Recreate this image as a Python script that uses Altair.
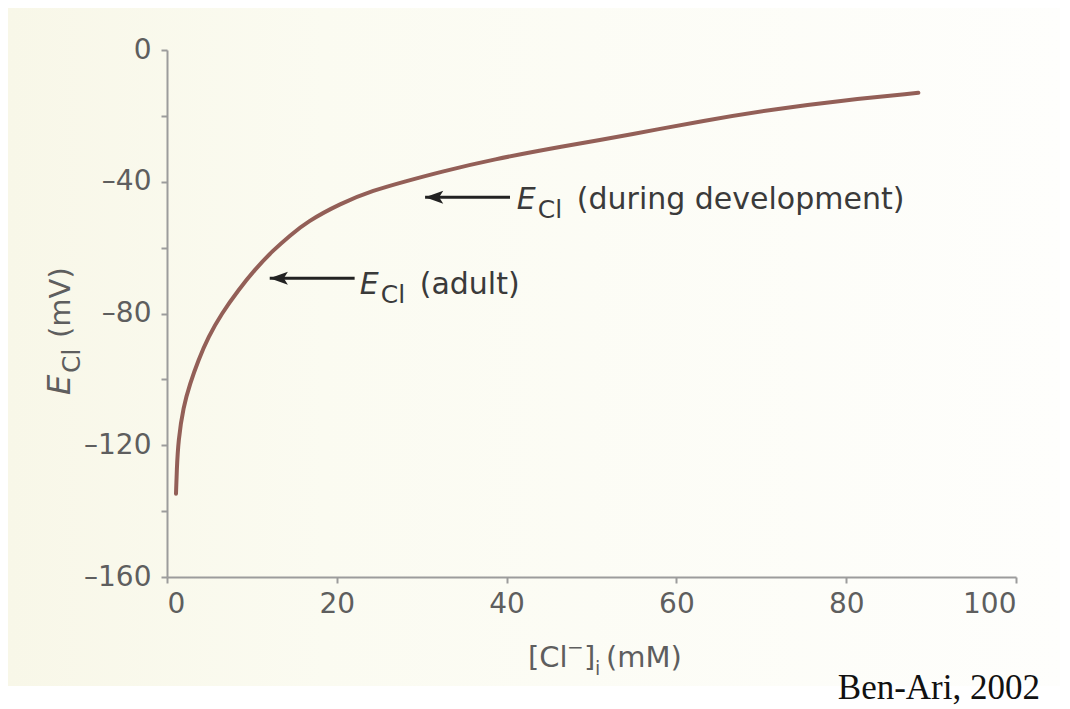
import altair as alt
import pandas as pd

# Curve: internal chloride (mM) vs E_Cl (mV)
cl_conc = [1.06, 1.15, 1.33, 1.92, 2.71, 3.69, 4.86, 6.44, 8.4, 10.4, 12.5, 14.5,
           16.45, 20.4, 24.3, 28.2, 32.2, 38.4, 46.3, 55.0, 63.0, 72.2, 78.9, 88.5]
e_cl = [-134.7, -127.5, -118.5, -108.4, -101.3, -94.2, -87.1, -80.0, -72.9, -66.5,
        -60.8, -56.3, -52.2, -46.6, -42.6, -39.8, -37.0, -33.2, -29.4, -25.5,
        -21.5, -17.7, -15.5, -13.0]

# Annotations: arrow tip, arrow tail, text anchor
ann_names = ["development", "adult"]
ann_tip_x = [30.4, 12.1]
ann_tail_x = [40.4, 22.1]
ann_arrow_y = [-44.7, -69.3]
ann_text_x = [41.2, 22.7]
ann_text_y = [-45.6, -71.4]
ann_suffix = ["(during development)", "(adult)"]

x_ticks = [0, 20, 40, 60, 80, 100]
y_ticks = [-160, -140, -120, -100, -80, -60, -40, -20, 0]

FONT = "DejaVu Sans"
LABEL_COLOR = "#5e5e5e"
AXIS_COLOR = "#9c9c9c"
TEXT_COLOR = "#3a3a3a"

curve = pd.DataFrame({"cl": cl_conc, "e": e_cl})
ann = pd.DataFrame({
    "name": ann_names, "tip": ann_tip_x, "tail": ann_tail_x, "ay": ann_arrow_y,
    "tx": ann_text_x, "ty": ann_text_y, "suffix": ann_suffix,
    "E": ["E", "E"], "sub": ["Cl", "Cl"],
})

xscale = alt.Scale(domain=[0, 100], nice=False, zero=False)
yscale = alt.Scale(domain=[-160, 0], nice=False, zero=False)

x_axis = alt.Axis(values=x_ticks, title="", grid=False, zindex=1,
                  labelFont=FONT, labelFontSize=28, labelColor=LABEL_COLOR,
                  labelPadding=7, domainColor=AXIS_COLOR, domainWidth=2,
                  tickColor=AXIS_COLOR, tickWidth=2, tickSize=6)
y_axis = alt.Axis(values=y_ticks, title="", grid=False, zindex=1,
                  labelExpr="datum.value % 40 == 0 ? (datum.value < 0 ? '\u2013' + (-datum.value) : '0') : ''",
                  labelFont=FONT, labelFontSize=28, labelColor=LABEL_COLOR,
                  labelPadding=10, domainColor=AXIS_COLOR, domainWidth=2,
                  tickColor=AXIS_COLOR, tickWidth=2, tickSize=6)

one = pd.DataFrame({"a": [0]})

bg = alt.Chart(one).mark_rect(
    color=alt.LinearGradient(
        gradient="linear", x1=0, x2=1, y1=0, y2=0,
        stops=[alt.GradientStop(color="#f8f7e8", offset=0),
               alt.GradientStop(color="#fbfbf1", offset=0.3),
               alt.GradientStop(color="#fefefc", offset=1)])
).encode(x=alt.value(-159), x2=alt.value(893), y=alt.value(-42), y2=alt.value(636))

line = alt.Chart(curve).mark_line(
    color="#935f57", strokeWidth=4, interpolate="basis", strokeCap="round"
).encode(
    x=alt.X("cl:Q", scale=xscale, axis=x_axis),
    y=alt.Y("e:Q", scale=yscale, axis=y_axis),
)

shafts = alt.Chart(ann).mark_rule(color="#222222", strokeWidth=3).encode(
    x=alt.X("tip:Q", scale=xscale), x2="tail:Q", y=alt.Y("ay:Q", scale=yscale))

heads = alt.Chart(ann).mark_point(
    shape="M 0 0 L 2 -0.72 L 1.55 0 L 2 0.72 Z", filled=True, size=330,
    color="#222222", opacity=1, strokeWidth=0
).encode(x=alt.X("tip:Q", scale=xscale), y=alt.Y("ay:Q", scale=yscale))

t_e = alt.Chart(ann).mark_text(
    font=FONT, fontSize=30, fontStyle="italic", align="left", baseline="middle",
    color=TEXT_COLOR
).encode(x=alt.X("tx:Q", scale=xscale), y=alt.Y("ty:Q", scale=yscale), text="E:N")

t_sub = alt.Chart(ann).mark_text(
    font=FONT, fontSize=25, align="left", baseline="middle", color=TEXT_COLOR,
    dx=21, dy=10
).encode(x=alt.X("tx:Q", scale=xscale), y=alt.Y("ty:Q", scale=yscale), text="sub:N")

t_suf = alt.Chart(ann).mark_text(
    font=FONT, fontSize=30, align="left", baseline="middle", color=TEXT_COLOR, dx=60
).encode(x=alt.X("tx:Q", scale=xscale), y=alt.Y("ty:Q", scale=yscale), text="suffix:N")


def piece(txt, px, py, size, angle=0, style="normal", color=LABEL_COLOR):
    kw = dict(font=FONT, fontSize=size, fontStyle=style, align="left",
              baseline="alphabetic", color=color)
    if angle:
        kw["angle"] = angle
    return alt.Chart(pd.DataFrame({"t": [txt]})).mark_text(**kw).encode(
        x=alt.value(px), y=alt.value(py), text="t:N")


# Y axis title: italic E, subscript Cl, (mV)
yt = [
    piece("E", -97, 345, 32, angle=270, style="italic"),
    piece("Cl", -87, 323, 25, angle=270),
    piece("(mV)", -97, 288, 29, angle=270),
]

# X axis title: [Cl superscript minus ] subscript i (mM)
xt = [
    piece("[Cl", 361, 617, 29),
    piece("\u2212", 400, 604, 20),
    piece("]", 417, 617, 29),
    piece("i", 428, 625, 19),
    piece("(mM)", 439, 617, 29),
]

credit = alt.Chart(pd.DataFrame({"t": ["Ben-Ari, 2002"]})).mark_text(
    font="Liberation Serif", fontSize=35, align="right", baseline="alphabetic",
    color="#111111"
).encode(x=alt.value(873), y=alt.value(649), text="t:N")

chart = alt.layer(bg, line, shafts, heads, t_e, t_sub, t_suf, *yt, *xt, credit).properties(
    width=849, height=527,
    autosize=alt.AutoSizeParams(type="none"),
    padding={"left": 159, "top": 42, "right": 46, "bottom": 130},
    background="white",
).configure_view(stroke=None)

chart.save("out.html", embed_options={"renderer": "svg", "actions": False})
